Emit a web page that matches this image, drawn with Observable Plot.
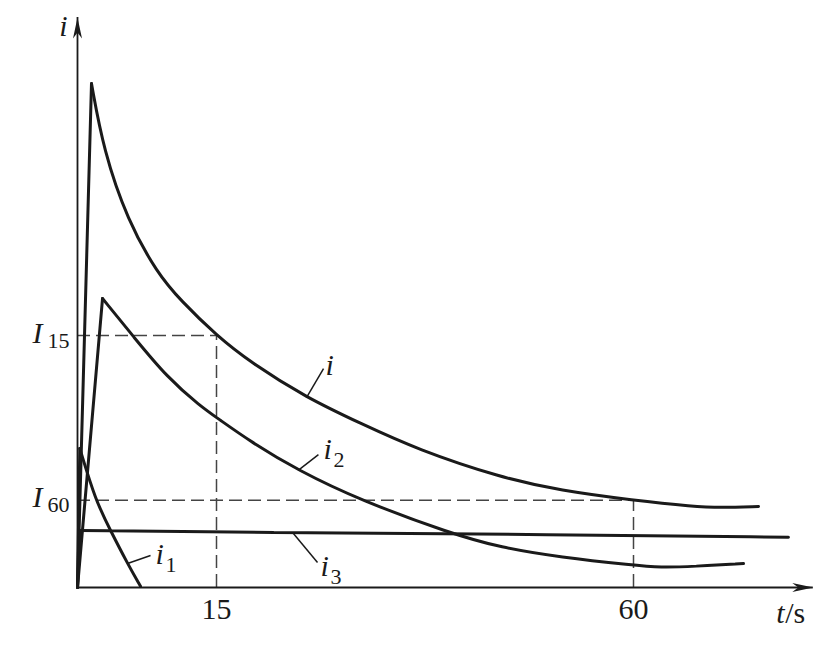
<!DOCTYPE html>
<html><head><meta charset="utf-8">
<script src="https://cdn.jsdelivr.net/npm/d3@7"></script>
<script src="https://cdn.jsdelivr.net/npm/@observablehq/plot@0.6"></script>
<style>body{margin:0;background:#fff}svg{display:block}svg text{font-family:"Liberation Serif","Times New Roman",Times,"DejaVu Serif",serif !important}</style>
</head><body><div id="chart"></div>
<script>
// total current i
const iT = [0, 1.51, 2.81, 5.40, 8.63, 11.11, 15, 18.67, 24.71, 30.54, 36.69, 45.65, 52.12, 60, 66.47, 69.38, 73.49];
const iV = [0, 88.4, 76.7, 64.4, 55.1, 50.4, 44.2, 39.5, 33.3, 28.8, 24.2, 19.3, 17.0, 15.3, 14.2, 14.0, 14.2];
// absorption current i2
const i2T = [0, 2.70, 6.04, 9.71, 13.27, 15.2, 18.67, 23.85, 30.54, 40.25, 45.65, 52.12, 60, 62.91, 66.47, 71.87];
const i2V = [0, 50.7, 44.0, 36.8, 31.8, 29.6, 25.6, 20.5, 15.3, 9.5, 7.0, 5.3, 3.9, 3.5, 3.7, 4.2];
// capacitive current i1
const i1T = [0, 0.25, 1.94, 3.56, 5.40, 6.80];
const i1V = [0, 24.4, 15.3, 10.0, 4.2, 0.2];
// leakage current i3
const i3T = [0, 0.3, 18.67, 52.12, 76.72];
const i3V = [0, 10.0, 9.65, 9.3, 8.8];

const I15 = 44.2, I60 = 15.3;
const xTicks = [15, 60];
const yMarks = [{sub: "15", v: I15, t: 15}, {sub: "60", v: I60, t: 60}];
const tMax = 79.4, vMax = 100;

// curve labels: name, subscript, anchor point, leader start/end
const curveLabels = [
  {name: "i", sub: "",  t: 26.76, v: 37.2, lt1: 24.71, lv1: 33.3, lt2: 26.55, lv2: 38.4},
  {name: "i", sub: "2", t: 26.55, v: 22.5, lt1: 23.85, lv1: 20.6, lt2: 26.0,  lv2: 23.3},
  {name: "i", sub: "1", t: 8.42,  v: 4.2,  lt1: 5.40,  lv1: 4.2,  lt2: 7.88,  lv2: 5.6},
  {name: "i", sub: "3", t: 26.22, v: 2.1,  lt1: 23.3,  lv1: 9.47, lt2: 25.9,  lv2: 4.39}
];

const pts = (ts, vs) => ts.map((t, k) => ({t, v: vs[k]}));
const I = pts(iT, iV), I2 = pts(i2T, i2V), I1 = pts(i1T, i1V), I3 = pts(i3T, i3V);

const arrowRight = {draw(c) { c.moveTo(0, 0); c.lineTo(-21, -4.5); c.lineTo(-15, 0); c.lineTo(-21, 4.5); c.closePath(); }};
const arrowUp = {draw(c) { c.moveTo(0, 0); c.lineTo(-4.5, 21); c.lineTo(0, 15); c.lineTo(4.5, 21); c.closePath(); }};

const font = "'Liberation Serif', 'Times New Roman', Times, 'DejaVu Serif', serif";
const ink = "#1a1a1a";
const curveStyle = {x: "t", y: "v", stroke: ink, strokeWidth: 3, strokeLinejoin: "miter"};
const txt = (o) => ({fontFamily: font, fill: ink, lineAnchor: "bottom", ...o});

const chart = Plot.plot({
  width: 824, height: 648,
  marginLeft: 0, marginRight: 0, marginTop: 0, marginBottom: 0,
  x: {domain: [0, 60], range: [77, 633], axis: null},
  y: {domain: [0, vMax], range: [587, 17], axis: null},
  style: {fontFamily: font, background: "#fff", color: ink},
  marks: [
    // dashed guides
    Plot.ruleY(yMarks, {y: "v", x1: 0, x2: "t", stroke: "#444", strokeWidth: 1.5, strokeDasharray: "13,6"}),
    Plot.ruleX(yMarks, {x: "t", y1: 0, y2: "v", stroke: "#444", strokeWidth: 1.5, strokeDasharray: "13,6"}),
    // axes
    Plot.ruleY([0], {x1: 0, x2: tMax, stroke: ink, strokeWidth: 1.8}),
    Plot.ruleX([0], {y1: 0, y2: vMax, stroke: ink, strokeWidth: 1.8}),
    Plot.dot([{t: tMax, v: 0}], {x: "t", y: "v", symbol: arrowRight, fill: ink, stroke: "none"}),
    Plot.dot([{t: 0, v: vMax}], {x: "t", y: "v", symbol: arrowUp, fill: ink, stroke: "none"}),
    // curves: sharp rise + smooth decay
    Plot.line(I.slice(0, 2), curveStyle),
    Plot.line(I.slice(1), {...curveStyle, curve: "basis"}),
    Plot.line(I2.slice(0, 2), curveStyle),
    Plot.line(I2.slice(1), {...curveStyle, curve: "basis"}),
    Plot.line(I1.slice(0, 2), curveStyle),
    Plot.line(I1.slice(1), {...curveStyle, curve: "basis"}),
    Plot.line(I3.slice(0, 2), curveStyle),
    Plot.line(I3.slice(1), {...curveStyle, curve: "basis"}),
    // leader lines
    Plot.link(curveLabels, {x1: "lt1", y1: "lv1", x2: "lt2", y2: "lv2", stroke: ink, strokeWidth: 1.5}),
    // curve labels
    Plot.text(curveLabels, txt({x: "t", y: "v", text: "name", textAnchor: "start", fontSize: 30, fontStyle: "italic"})),
    Plot.text(curveLabels, txt({x: "t", y: "v", text: "sub", textAnchor: "start", fontSize: 22, dx: 10, dy: 8})),
    // x tick labels
    Plot.text(xTicks, txt({x: d => d, y: 0, text: d => String(d), textAnchor: "middle", dy: 31, fontSize: 30})),
    // y labels I15, I60
    Plot.text(yMarks, txt({y: "v", frameAnchor: "left", text: () => "I", textAnchor: "start", dx: 32, dy: 7, fontSize: 30, fontStyle: "italic"})),
    Plot.text(yMarks, txt({y: "v", frameAnchor: "left", text: "sub", textAnchor: "start", dx: 47, dy: 12, fontSize: 22})),
    // axis titles
    Plot.text([{t: 0, v: vMax}], txt({x: "t", y: "v", text: () => "i", textAnchor: "end", dx: -10, dy: 18, fontSize: 30, fontStyle: "italic"})),
    Plot.text([{t: tMax, v: 0}], txt({x: "t", y: "v", text: () => "t", textAnchor: "start", dx: -37, dy: 35, fontSize: 30, fontStyle: "italic"})),
    Plot.text([{t: tMax, v: 0}], txt({x: "t", y: "v", text: () => "/s", textAnchor: "start", dx: -28, dy: 35, fontSize: 30}))
  ]
});
document.getElementById("chart").appendChild(chart);
</script>
</body></html>
